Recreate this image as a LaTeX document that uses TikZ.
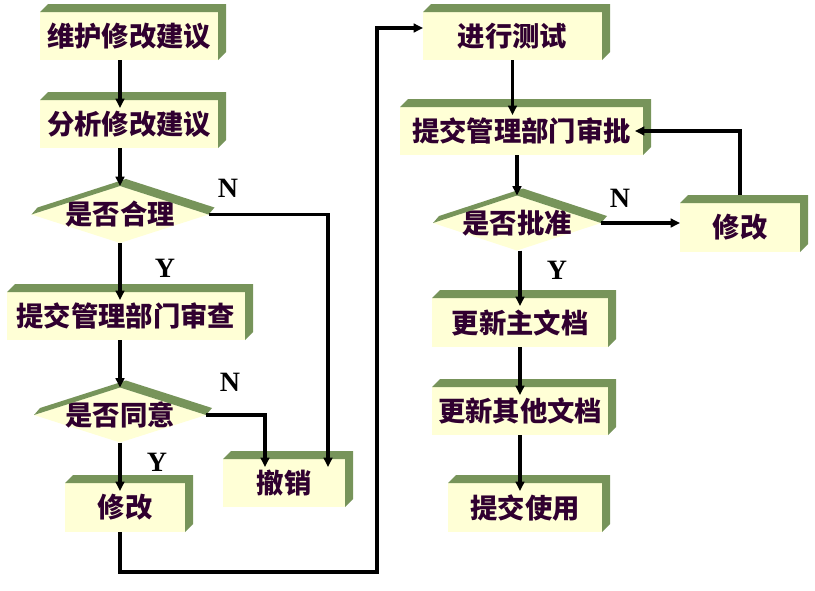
\documentclass[tikz,border=0pt]{standalone}
\usepackage{fontspec}
\setmainfont{Liberation Serif}
\newfontfamily\cjk{Noto Sans CJK SC}
\usepackage{tikz}
\usetikzlibrary{shapes.geometric, arrows.meta, positioning}

\definecolor{facecol}{RGB}{255,255,214}
\definecolor{bevelcol}{RGB}{119,148,90}
\definecolor{txtcol}{RGB}{48,0,48}

\begin{document}
\begin{tikzpicture}[
  x=0.75pt, y=-0.75pt,
  box/.style={rectangle, fill=facecol, outer sep=0pt, inner sep=2pt, text=txtcol,
    font=\cjk\bfseries\fontsize{20.5}{24}\selectfont},
  dia/.style={diamond, fill=facecol, outer sep=0pt, inner sep=0pt},
  txt/.style={text=txtcol, font=\cjk\bfseries\fontsize{20.5}{24}\selectfont},
  yn/.style={font=\bfseries\fontsize{21}{24}\selectfont},
  bevel/.style={fill=bevelcol},
  arr/.style={-{Triangle[length=7pt, width=6.5pt]}, line width=2.3pt},
  arrb/.style={arr, shorten >=-6pt},
]
\useasboundingbox (0,0) rectangle (815,590);

%% Left column
\node[box, minimum width=133.5pt, minimum height=36pt] (wh) at (129,36) {维护修改建议};
\node[box, minimum width=133.5pt, minimum height=36pt] (fx) at (129,124) {分析修改建议};
\node[dia, minimum width=132.75pt, minimum height=42.75pt] (d1) at (120,214.5) {};
\node[txt] (d1t) at (d1) {是否合理};
\node[box, minimum width=178.5pt, minimum height=36pt] (tj) at (126,316) {提交管理部门审查};
\node[dia, minimum width=129pt, minimum height=41.25pt] (d2) at (120,415) {};
\node[txt] (d2t) at (d2) {是否同意};
\node[box, minimum width=90pt, minimum height=36.75pt] (xg) at (125,507.5) {修改};
\node[box, minimum width=91.5pt, minimum height=36pt] (cx) at (284,483) {撤销};

%% Right column
\node[box, minimum width=134.25pt, minimum height=36pt] (cs) at (512.5,36) {进行测试};
\node[box, minimum width=182.25pt, minimum height=36pt] (sp) at (521.5,131) {提交管理部门审批};
\node[dia, minimum width=126pt, minimum height=41.25pt] (d3) at (517,223) {};
\node[txt] (d3t) at (d3) {是否批准};
\node[box, minimum width=90pt, minimum height=36.75pt] (xg2) at (740,227.5) {修改};
\node[box, minimum width=132pt, minimum height=36.75pt] (gz) at (520,322.5) {更新主文档};
\node[box, minimum width=132pt, minimum height=36pt] (gq) at (520,411) {更新其他文档};
\node[box, minimum width=115.5pt, minimum height=36.75pt] (tsy) at (525,507.5) {提交使用};

%% 3D edges
\foreach \n in {wh,fx,tj,xg,cx,cs,sp,xg2,gz,gq,tsy}
  \fill[bevel] (\n.north west) -- ++(8,-8) -- ([shift={(8,-8)}]\n.north east)
    -- ([shift={(8,-8)}]\n.south east) -- (\n.south east) -- (\n.north east) -- cycle;
\foreach \n in {d1,d2,d3}
  \fill[bevel] (\n.west) -- ++(6,-7) -- ([shift={(6,-7)}]\n.north)
    -- ([shift={(6,-7)}]\n.east) -- (\n.east) -- (\n.north) -- cycle;

%% Y / N
\node[yn] (ya) at (165,268) {Y};
\node[yn] (na) at (228,188) {N};
\node[yn] (nb) at (230,382) {N};
\node[yn] (yb) at (157,462) {Y};
\node[yn] (nc) at (620,198) {N};
\node[yn] (yc) at (557,270) {Y};

\coordinate (lo) at (377,572);

%% Arrows
\draw[arrb] (wh.south -| d1) -- (fx.north -| d1);
\draw[arr]  (fx.south -| d1) -- (d1.north);
\draw[arrb] (d1.south) -- (tj.north -| d1);
\draw[arrb] (d1.east) -| ([xshift=33pt]cx.north);
\draw[arr]  (tj.south -| d2) -- (d2.north);
\draw[arrb] (d2.east) -| ([xshift=-14.25pt]cx.north);
\draw[arrb] (d2.south) -- (xg.north -| d2);
\draw[arr]  (xg.south -| d2) |- (lo) |- ([yshift=6pt]cs.west);
\draw[arrb] (cs.south) -- (sp.north -| cs.south);
\draw[arr]  (sp.south -| d3) -- (d3.north);
\draw[arr]  (d3.east) -- (d3.east -| xg2.west);
\draw[arrb] ([yshift=6pt]xg2.north) |- (sp.east);
\draw[arrb] (d3.south -| gz) -- (gz.north);
\draw[arrb] (gz) -- (gq);
\draw[arrb] (gq.south) -- (tsy.north -| gq.south);

\end{tikzpicture}
\end{document}
